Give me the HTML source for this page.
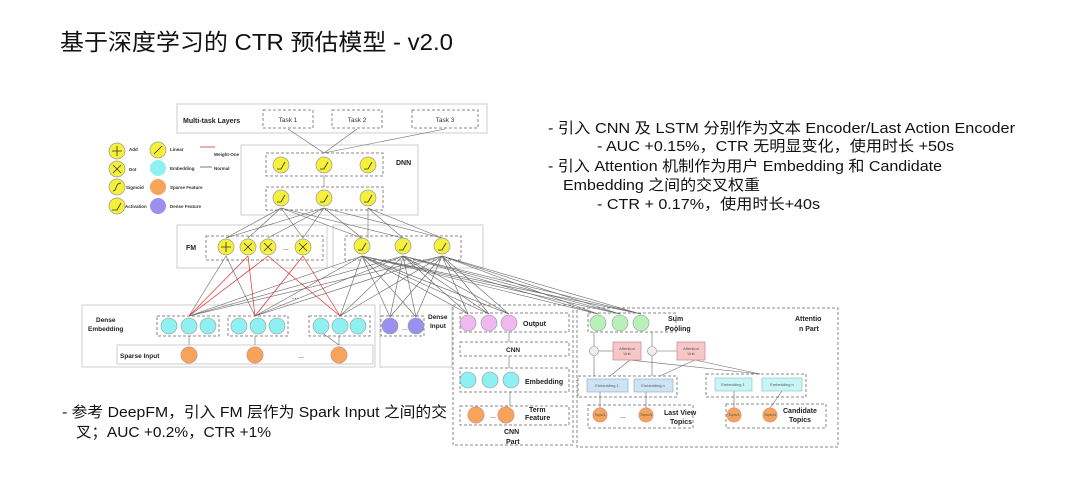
<!DOCTYPE html>
<html><head><meta charset="utf-8"><style>
html,body{margin:0;padding:0;background:#fff;}
body{width:1080px;height:486px;overflow:hidden;}
text{font-family:"Liberation Sans","Noto Sans CJK SC",sans-serif;}
</style></head><body>
<svg width="1080" height="486" viewBox="0 0 1080 486" xmlns="http://www.w3.org/2000/svg">
<text x="60" y="50" font-size="23" fill="#111" textLength="393" lengthAdjust="spacingAndGlyphs">基于深度学习的 CTR 预估模型 - v2.0</text>

<g font-size="15" fill="#111">
<text x="548" y="133" textLength="467" lengthAdjust="spacingAndGlyphs">-  引入 CNN 及  LSTM 分别作为文本 Encoder/Last Action Encoder</text>
<text x="597" y="151" textLength="357" lengthAdjust="spacingAndGlyphs">-  AUC +0.15%，CTR 无明显变化，使用时长 +50s</text>
<text x="548" y="171" textLength="394" lengthAdjust="spacingAndGlyphs">-  引入 Attention 机制作为用户 Embedding 和 Candidate</text>
<text x="563" y="190" textLength="197" lengthAdjust="spacingAndGlyphs">Embedding 之间的交叉权重</text>
<text x="597" y="209" textLength="223" lengthAdjust="spacingAndGlyphs">-  CTR + 0.17%，使用时长+40s</text>
<text x="62" y="417" textLength="385" lengthAdjust="spacingAndGlyphs">-  参考 DeepFM，引入 FM 层作为 Spark Input 之间的交</text>
<text x="76" y="437" textLength="195" lengthAdjust="spacingAndGlyphs">叉；AUC +0.2%，CTR +1%</text>
</g>

<g fill="none" stroke="#ccc" stroke-width="1">
<rect x="177" y="104" width="310" height="29"/>
<rect x="241" y="145" width="177" height="70"/>
<rect x="177" y="225" width="150" height="43"/>
<rect x="333" y="225" width="150" height="43"/>
<rect x="82" y="305" width="293" height="62"/>
<rect x="380" y="305" width="72" height="62"/>
<rect x="117" y="345" width="256" height="19"/>
</g>
<g fill="none" stroke="#888" stroke-width="1" stroke-dasharray="3,2">
<rect x="263" y="110" width="50" height="18"/>
<rect x="332" y="110" width="50" height="18"/>
<rect x="412" y="110" width="66" height="18"/>
<rect x="266" y="153" width="117" height="23"/>
<rect x="266" y="187" width="117" height="23"/>
<rect x="206" y="236" width="117" height="24"/>
<rect x="345" y="236" width="116" height="24"/>
<rect x="157" y="316" width="62" height="20"/>
<rect x="228" y="316" width="60" height="20"/>
<rect x="309" y="316" width="61" height="20"/>
<rect x="381" y="316" width="43" height="20"/>
<rect x="453" y="305" width="120" height="140"/>
<rect x="460" y="313" width="109" height="19"/>
<rect x="460" y="342" width="109" height="14"/>
<rect x="460" y="368" width="109" height="24"/>
<rect x="460" y="406" width="109" height="19"/>
<rect x="577" y="308" width="261" height="139"/>
<rect x="588" y="313" width="88" height="19"/>
<rect x="578" y="376" width="99" height="21"/>
<rect x="706" y="374" width="100" height="23"/>
<rect x="588" y="405" width="105" height="23"/>
<rect x="726" y="404" width="100" height="24"/>
</g>
<g font-size="6.5" fill="#333" text-anchor="middle">
<text x="288" y="122">Task 1</text><text x="357" y="122">Task 2</text><text x="445" y="122">Task 3</text>
</g>
<g font-size="7" font-weight="bold" fill="#222">
<text x="183" y="123">Multi-task Layers</text>
<text x="396" y="165">DNN</text>
<text x="186" y="250">FM</text>
<text x="96" y="322" font-size="6.5">Dense</text><text x="88" y="331" font-size="6.5">Embedding</text>
<text x="120" y="358" font-size="6.5">Sparse Input</text>
<text x="428" y="319" font-size="6.5">Dense</text><text x="430" y="328" font-size="6.5">Input</text>
<text x="523" y="326">Output</text>
<text x="506" y="352" font-size="6.5">CNN</text>
<text x="525" y="384">Embedding</text>
<text x="529" y="412">Term</text><text x="525" y="420">Feature</text>
<text x="504" y="434">CNN</text><text x="506" y="444">Part</text>
<text x="668" y="321">Sum</text><text x="665" y="331">Pooling</text>
<text x="795" y="321">Attentio</text><text x="799" y="331">n Part</text>
<text x="664" y="415">Last View</text><text x="670" y="424">Topics</text>
<text x="783" y="413">Candidate</text><text x="789" y="422">Topics</text>
</g>
<text x="292" y="299" font-size="8" fill="#333">...</text>
<text x="402" y="330" font-size="7" fill="#333">...</text>

<g stroke="#666" stroke-width="0.6">
<line x1="324" y1="153" x2="288" y2="129"/><line x1="324" y1="153" x2="357" y2="129"/><line x1="324" y1="153" x2="445" y2="129"/>
<line x1="324" y1="187" x2="324" y2="175"/>
<line x1="362" y1="256" x2="189" y2="316"/><line x1="362" y1="256" x2="255" y2="316"/><line x1="362" y1="256" x2="340" y2="316"/><line x1="362" y1="256" x2="390" y2="317"/><line x1="362" y1="256" x2="416" y2="317"/><line x1="362" y1="256" x2="468" y2="314"/><line x1="362" y1="256" x2="489" y2="314"/><line x1="362" y1="256" x2="509" y2="314"/><line x1="362" y1="256" x2="598" y2="314"/><line x1="362" y1="256" x2="620" y2="314"/><line x1="362" y1="256" x2="641" y2="314"/>
<line x1="403" y1="256" x2="189" y2="316"/><line x1="403" y1="256" x2="255" y2="316"/><line x1="403" y1="256" x2="340" y2="316"/><line x1="403" y1="256" x2="390" y2="317"/><line x1="403" y1="256" x2="416" y2="317"/><line x1="403" y1="256" x2="468" y2="314"/><line x1="403" y1="256" x2="489" y2="314"/><line x1="403" y1="256" x2="509" y2="314"/><line x1="403" y1="256" x2="598" y2="314"/><line x1="403" y1="256" x2="620" y2="314"/><line x1="403" y1="256" x2="641" y2="314"/>
<line x1="442" y1="256" x2="189" y2="316"/><line x1="442" y1="256" x2="255" y2="316"/><line x1="442" y1="256" x2="340" y2="316"/><line x1="442" y1="256" x2="390" y2="317"/><line x1="442" y1="256" x2="416" y2="317"/><line x1="442" y1="256" x2="468" y2="314"/><line x1="442" y1="256" x2="489" y2="314"/><line x1="442" y1="256" x2="509" y2="314"/><line x1="442" y1="256" x2="598" y2="314"/><line x1="442" y1="256" x2="620" y2="314"/><line x1="442" y1="256" x2="641" y2="314"/>
<line x1="226" y1="238" x2="281" y2="208"/><line x1="226" y1="238" x2="324" y2="208"/>
<line x1="248" y1="238" x2="281" y2="208"/><line x1="268" y1="238" x2="324" y2="208"/><line x1="303" y1="238" x2="281" y2="208"/><line x1="303" y1="238" x2="324" y2="208"/>
<line x1="362" y1="238" x2="281" y2="208"/><line x1="362" y1="238" x2="324" y2="208"/><line x1="403" y1="238" x2="368" y2="208"/><line x1="403" y1="238" x2="281" y2="208"/><line x1="442" y1="238" x2="324" y2="208"/><line x1="442" y1="238" x2="368" y2="208"/>
<line x1="368" y1="238" x2="368" y2="208"/>
<line x1="226" y1="256" x2="189" y2="316"/><line x1="226" y1="256" x2="255" y2="316"/>
<line x1="189" y1="345" x2="189" y2="336"/><line x1="255" y1="345" x2="255" y2="336"/><line x1="339" y1="345" x2="339" y2="336"/><line x1="339" y1="345" x2="318" y2="330"/>
<line x1="509" y1="342" x2="509" y2="332"/><line x1="509" y1="368" x2="509" y2="356"/><line x1="510" y1="406" x2="510" y2="392"/>
<line x1="594" y1="376" x2="594" y2="356"/><line x1="594" y1="346" x2="594" y2="332"/><line x1="652" y1="376" x2="652" y2="356"/><line x1="652" y1="346" x2="652" y2="332"/>
<line x1="613" y1="351" x2="599" y2="351"/><line x1="677" y1="351" x2="657" y2="351"/>
<line x1="610" y1="376" x2="630" y2="360"/><line x1="660" y1="376" x2="695" y2="360"/>
<line x1="760" y1="374" x2="630" y2="360"/><line x1="760" y1="374" x2="695" y2="360"/>
<line x1="600" y1="408" x2="600" y2="392"/><line x1="646" y1="408" x2="646" y2="392"/><line x1="734" y1="408" x2="734" y2="391"/><line x1="770" y1="408" x2="782" y2="391"/>
</g>
<g stroke="#e03030" stroke-width="0.7">
<line x1="248" y1="256" x2="189" y2="316"/><line x1="248" y1="256" x2="255" y2="316"/>
<line x1="268" y1="256" x2="189" y2="316"/><line x1="268" y1="256" x2="340" y2="316"/>
<line x1="303" y1="256" x2="255" y2="316"/><line x1="303" y1="256" x2="340" y2="316"/>
</g>

<g stroke="#999" stroke-width="0.7">
<circle cx="117" cy="151" r="8" fill="#f5f03a"/><circle cx="117" cy="169" r="8" fill="#f5f03a"/><circle cx="117" cy="187" r="8" fill="#f5f03a"/><circle cx="117" cy="206" r="8" fill="#f5f03a"/>
<circle cx="158" cy="150" r="8" fill="#f5f03a"/><circle cx="158" cy="168" r="8" fill="#8ef0f0" stroke="none"/><circle cx="158" cy="187" r="8" fill="#f5a45a" stroke="none"/><circle cx="158" cy="206" r="8" fill="#9a90f0" stroke="none"/>
</g>
<g stroke="#333" stroke-width="0.8" fill="none">
<path d="M112,151h10M117,146v10"/><path d="M113,165l8,8M121,165l-8,8"/><path d="M113,191c4,0 2,-8 8,-8"/><path d="M112,210h5l4,-7"/><path d="M154,154l8,-8"/>
</g>
<line x1="200" y1="147" x2="215" y2="147" stroke="#e03030" stroke-width="0.8"/>
<line x1="200" y1="167" x2="212" y2="167" stroke="#555" stroke-width="0.8"/>
<g font-size="4.5" fill="#333" font-weight="bold">
<text x="129" y="151">Add</text><text x="129" y="171">Dot</text><text x="126" y="189">Sigmoid</text><text x="125" y="208">Activation</text>
<text x="170" y="151">Linear</text><text x="170" y="170">Embedding</text><text x="170" y="189">Sparse Feature</text><text x="170" y="208">Dense Feature</text>
<text x="214" y="156">Weight-One</text><text x="214" y="170">Normal</text>
</g>

<g fill="#f5f03a" stroke="#999" stroke-width="0.7">
<circle cx="281" cy="165" r="8"/><circle cx="324" cy="165" r="8"/><circle cx="368" cy="165" r="8"/>
<circle cx="281" cy="198" r="8"/><circle cx="324" cy="198" r="8"/><circle cx="368" cy="198" r="8"/>
<circle cx="226" cy="247" r="8"/><circle cx="248" cy="247" r="8"/><circle cx="268" cy="247" r="8"/><circle cx="303" cy="247" r="8"/>
<circle cx="362" cy="246" r="8"/><circle cx="403" cy="246" r="8"/><circle cx="442" cy="246" r="8"/>
</g>
<g stroke="#333" stroke-width="0.8" fill="none">
<path d="M277,169h4l4,-7M320,169h4l4,-7M364,169h4l4,-7M277,202h4l4,-7M320,202h4l4,-7M364,202h4l4,-7M358,250h4l4,-7M399,250h4l4,-7M438,250h4l4,-7"/>
<path d="M221,247h10M226,242v10M244,243l8,8M252,243l-8,8M264,243l8,8M272,243l-8,8M299,243l8,8M307,243l-8,8"/>
</g>
<text x="283" y="250" font-size="7">...</text>

<g fill="#8ef0f0" stroke="#999" stroke-width="0.6">
<circle cx="169" cy="326" r="8"/><circle cx="189" cy="326" r="8"/><circle cx="208" cy="326" r="8"/>
<circle cx="239" cy="326" r="8"/><circle cx="258" cy="326" r="8"/><circle cx="277" cy="326" r="8"/>
<circle cx="321" cy="326" r="8"/><circle cx="340" cy="326" r="8"/><circle cx="358" cy="326" r="8"/>
<circle cx="468" cy="380" r="8"/><circle cx="490" cy="380" r="8"/><circle cx="511" cy="380" r="8"/>
</g>
<g fill="#f5a45a" stroke="#d98"><circle cx="189" cy="355" r="8"/><circle cx="255" cy="355" r="8"/><circle cx="339" cy="355" r="8"/>
<circle cx="476" cy="415" r="8"/><circle cx="506" cy="415" r="8"/>
<circle cx="600" cy="415" r="7"/><circle cx="646" cy="415" r="7"/><circle cx="734" cy="415" r="7"/><circle cx="770" cy="415" r="7"/></g>
<text x="298" y="358" font-size="7">...</text><text x="490" y="418" font-size="7">...</text><text x="620" y="418" font-size="7">...</text>
<g fill="#9a90f0" stroke="#999" stroke-width="0.6"><circle cx="390" cy="326" r="8"/><circle cx="416" cy="326" r="8"/></g>
<g fill="#f0b8f0" stroke="#999" stroke-width="0.6"><circle cx="468" cy="323" r="8"/><circle cx="489" cy="323" r="8"/><circle cx="509" cy="323" r="8"/></g>
<g fill="#b8f0b8" stroke="#999" stroke-width="0.6"><circle cx="598" cy="323" r="8"/><circle cx="620" cy="323" r="8"/><circle cx="641" cy="323" r="8"/></g>
<g fill="#f7c6c6" stroke="#c88" stroke-width="0.7"><rect x="613" y="342" width="28" height="18"/><rect x="677" y="342" width="28" height="18"/></g>
<g fill="#eee" stroke="#888" stroke-width="0.6"><circle cx="594" cy="351" r="4.5"/><circle cx="652" cy="351" r="4.5"/></g>
<g fill="#cde4f7" stroke="#8ab" stroke-width="0.6"><rect x="587" y="379" width="41" height="13"/><rect x="634" y="379" width="39" height="13"/></g>
<g fill="#c8f6f6" stroke="#8bb" stroke-width="0.6"><rect x="715" y="378" width="37" height="13"/><rect x="762" y="378" width="40" height="13"/></g>
<g font-size="4" fill="#555" text-anchor="middle">
<text x="627" y="350">Attention</text><text x="627" y="355">Unit</text><text x="691" y="350">Attention</text><text x="691" y="355">Unit</text>
<text x="607" y="387">Embedding 1</text><text x="653" y="387">Embedding n</text><text x="733" y="386">Embedding 1</text><text x="782" y="386">Embedding n</text>
<text x="600" y="416">Topic1</text><text x="646" y="416">TopicN</text><text x="734" y="416">Topic1</text><text x="770" y="416">TopicN</text>
</g>
</svg>
</body></html>
